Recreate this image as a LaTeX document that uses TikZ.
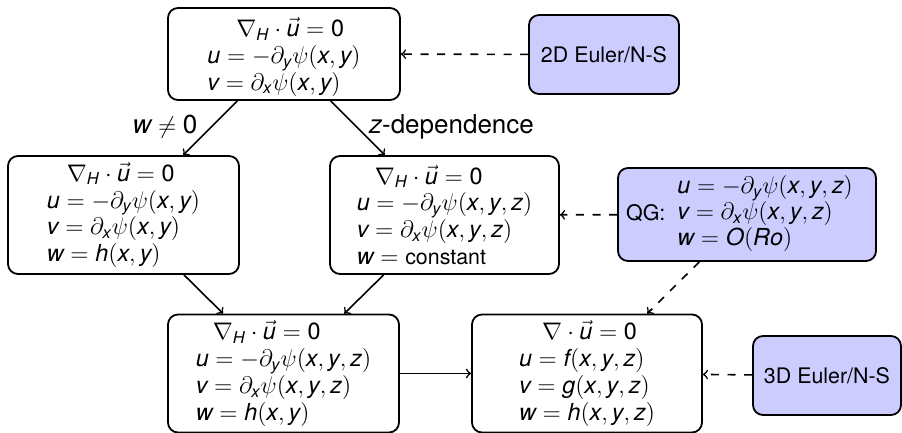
\documentclass[tikz,border=0pt]{standalone}
\usepackage{amsmath}
\usepackage{mathspec}
\setmainfont{TeX Gyre Heros}
\setmathsfont(Digits,Latin){TeX Gyre Heros}
\usetikzlibrary{arrows}
\newcommand{\txt}[1]{\mbox{\fontsize{10.7}{12.8}\selectfont #1}}
\tikzset{
  base/.style={draw, line width=0.9pt, rounded corners=5pt, inner sep=3pt,
    font=\fontsize{10.7}{12.8}\selectfont},
  eqbox/.style={base, align=left, minimum width=115.5pt, minimum height=59pt,
    font=\fontsize{11.7}{13.4}\selectfont},
  srcbox/.style={base, fill=blue!20, align=center},
  link/.style={->, line width=0.8pt},
  hint/.style={->, line width=0.8pt, dash pattern=on 4pt off 4.3pt},
  lbl/.style={font=\fontsize{13}{15}\selectfont}
}
\begin{document}
\begin{tikzpicture}[x=0.5pt, y=-0.5pt]
\useasboundingbox (0,0) rectangle (902,433);

% equation boxes
\node[eqbox, minimum width=116pt, minimum height=46pt, inner ysep=0.5pt] (top) at (284,54)
  {\rule{0pt}{12.5pt}\hspace*{14.5pt}$\nabla_H\cdot\vec{u}=0$\\
   $u=-\partial_y\psi(x,y)$\\
   $v=\partial_x\psi(x,y)$};
\node[eqbox] (midL) at (123.5,215)
  {\hspace*{10pt}$\nabla_H\cdot\vec{u}=0$\\
   $u=-\partial_y\psi(x,y)$\\
   $v=\partial_x\psi(x,y)$\\
   $w=h(x,y)$};
\node[eqbox, minimum width=114.5pt] (midC) at (444.5,215)
  {\hspace*{9pt}$\nabla_H\cdot\vec{u}=0$\\
   $u=-\partial_y\psi(x,y,z)$\\
   $v=\partial_x\psi(x,y,z)$\\
   $w=\txt{constant}$};
\node[eqbox] (botL) at (283.5,373.5)
  {\hspace*{8.5pt}$\nabla_H\cdot\vec{u}=0$\\
   $u=-\partial_y\psi(x,y,z)$\\
   $v=\partial_x\psi(x,y,z)$\\
   $w=h(x,y)$};
\node[eqbox, minimum width=115pt] (botM) at (587,373.5)
  {\hspace*{11.5pt}$\nabla\cdot\vec{u}=0$\\
   $u=f(x,y,z)$\\
   $v=g(x,y,z)$\\
   $w=h(x,y,z)$};

% model boxes
\node[srcbox, minimum width=75pt, minimum height=39.5pt] (e2d) at (604,54.5) {2D Euler/N-S};
\node[srcbox, minimum width=129pt, minimum height=46.5pt] (qg) at (747,214.5)
  {QG:\hspace{6pt}{\fontsize{11.7}{12.8}\selectfont$\begin{array}{@{}l@{}}
     u=-\partial_y\psi(x,y,z)\\
     v=\partial_x\psi(x,y,z)\\
     w=O(Ro)
   \end{array}$}\hspace{7.5pt}};
\node[srcbox, minimum width=74pt, minimum height=39.5pt] (e3d) at (827,375.5) {3D Euler/N-S};

% derivations
\draw[link] (top) -- (midL);
\draw[link] (top) -- (midC);
\draw[link] (midL) -- (botL);
\draw[link] (midC) -- (botL);
\draw[link] (botL) -- (botM);
\node[lbl] (lw) at (165,127) {$w\neq0$};
\node[lbl] (lz) at (451.5,127) {$z$-dependence};

% model links
\draw[hint] (e2d) -- (top);
\draw[hint] (qg) -- (midC);
\draw[hint] (qg) -- (botM);
\draw[hint] (e3d) -- (botM);
\end{tikzpicture}
\end{document}
